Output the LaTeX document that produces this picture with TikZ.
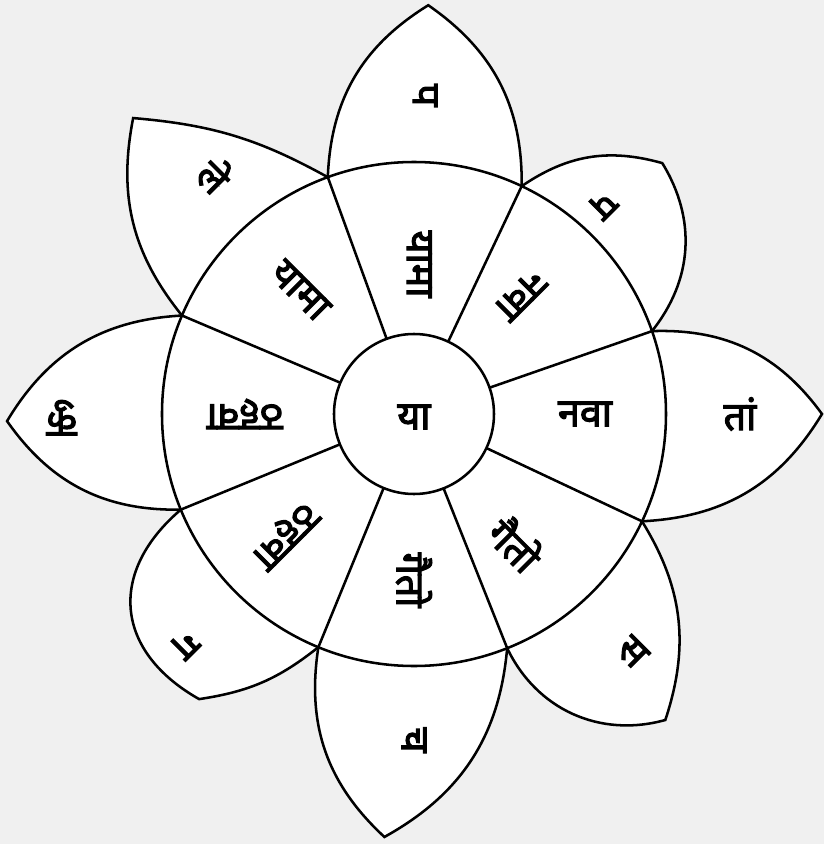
\documentclass[tikz,border=0pt]{standalone}
\usepackage{fontspec}
\newfontfamily\deva[Script=Devanagari,FakeBold=3]{Noto Sans}

\begin{document}
\begin{tikzpicture}[x=0.025cm, y=0.025cm, line width=1.8pt,
  akshara/.style={font=\deva\fontsize{28}{30}\selectfont, inner sep=0pt}]

\def\rin{80}
\def\rout{252}

% фон
\fill[black!6] (-414,-430) rectangle (410,414);
\useasboundingbox (-414,-430) rectangle (410,414);

% стыки лепестков на внешнем круге
\foreach \a/\n in {19.2/1, 64.7/2, 110/3, 157/4, 202.3/5, 247.7/6, 291.7/7, 334.8/8}{
  \coordinate (j\n) at (\a:\rout);
  \coordinate (i\n) at (\a:\rin);
}

% кончики лепестков
\coordinate (tE)  at (0:408);
\coordinate (tNE) at (45.3:353);
\coordinate (tN)  at (88:409);
\coordinate (tNW) at (133.5:408);
\coordinate (tW)  at (181:407);
\coordinate (tSW) at (233:357);
\coordinate (tS)  at (266:424);
\coordinate (tSE) at (309.4:396);

% лепестки
\foreach \p/\t/\q/\ba/\bb/\la in {j1/tE/j8/28/28/1, j2/tNE/j1/25/35/1, j3/tN/j2/28/28/1,
                      j4/tNW/j3/25/12/1, j5/tW/j4/28/28/1, j6/tSW/j5/15/55/1.3,
                      j7/tS/j6/28/28/1, j8/tSE/j7/25/40/1}
  \draw[fill=white] (\p) to[bend left=\ba] (\t) to[bend left=\bb, looseness=\la] (\q);

% круги и спицы
\draw[fill=white] (0,0) circle (\rout);
\foreach \n in {1,...,8}
  \draw (i\n) -- (j\n);
\draw (0,0) circle (\rin);

% центр
\node[akshara] (c) at (0,-3) {या};

% кольцо
\node[akshara]             (sE)  at (0:171)     {नवा};
\node[akshara,rotate=-135] (sNE) at (48:160)    {नवा};
\node[akshara,rotate=-90]  (sN)  at (88:150)    {यामा};
\node[akshara,rotate=-45]  (sNW) at (132.6:168) {यामा};
\node[akshara,rotate=180]  (sW)  at (180:169)   {ठहवा};
\node[akshara,rotate=-135] (sSW) at (223:177)   {ठहवा};
\node[akshara,rotate=-90]  (sS)  at (270:166)   {गैतो};
\node[akshara,rotate=-45]  (sSE) at (308:165)   {गैतो};

% лепестки: буквы
\node[akshara]             (pE)  at (0:326)     {तां};
\node[akshara,rotate=-135] (pNE) at (47.9:282)  {प};
\node[akshara,rotate=-90]  (pN)  at (88:319)    {प};
\node[akshara,rotate=-45]  (pNW) at (129.8:311) {ले};
\node[akshara,rotate=180]  (pW)  at (180.6:352) {कु};
\node[akshara,rotate=-135] (pSW) at (225.2:325) {ग};
\node[akshara,rotate=-90]  (pS)  at (270:326)   {च};
\node[akshara,rotate=-45]  (pSE) at (312.5:323) {स};

\end{tikzpicture}
\end{document}
